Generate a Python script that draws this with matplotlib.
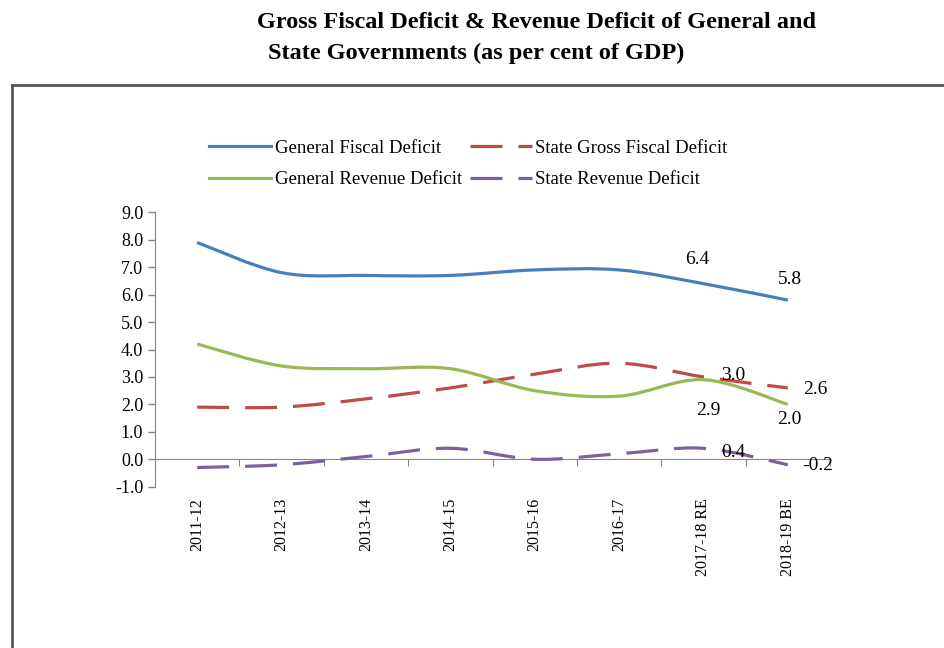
import numpy as np
import matplotlib.pyplot as plt
from matplotlib.path import Path
from matplotlib.patches import PathPatch
from matplotlib.lines import Line2D

years = ["2011-12", "2012-13", "2013-14", "2014-15", "2015-16", "2016-17",
         "2017-18 RE", "2018-19 BE"]
gen_fiscal = [7.9, 6.8, 6.7, 6.7, 6.9, 6.9, 6.4, 5.8]
state_fiscal = [1.9, 1.9, 2.2, 2.6, 3.1, 3.5, 3.0, 2.6]
gen_revenue = [4.2, 3.4, 3.3, 3.3, 2.5, 2.3, 2.9, 2.0]
state_revenue = [-0.3, -0.2, 0.1, 0.4, 0.0, 0.2, 0.4, -0.2]

blue = "#4a7ebb"
red = "#be4b48"
green = "#98b954"
purple = "#7d60a0"
axcol = "#868686"

plt.rcParams['font.family'] = ['Liberation Serif', 'DejaVu Serif']


def smooth_path(xs, ys):
    # Excel style smoothed line: cubic bezier through each point
    pts = np.column_stack([xs, ys]).astype(float)
    n = len(pts)
    verts = [pts[0]]
    codes = [Path.MOVETO]
    for i in range(n - 1):
        p0 = pts[max(i - 1, 0)]
        p1 = pts[i]
        p2 = pts[i + 1]
        p3 = pts[min(i + 2, n - 1)]
        c1 = p1 + (p2 - p0) / 6.0
        c2 = p2 - (p3 - p1) / 6.0
        verts += [c1, c2, p2]
        codes += [Path.CURVE4] * 3
    return Path(verts, codes)


fig = plt.figure(figsize=(9.44, 6.48), dpi=100)
ax = fig.add_axes([155 / 944, 1 - 486.7 / 648, 675 / 944, 274.4 / 648])

x = np.arange(len(years))
dash = (0, (10, 5))
series = {
    "General Fiscal Deficit": (gen_fiscal, blue, '-'),
    "State Gross Fiscal Deficit": (state_fiscal, red, dash),
    "General Revenue Deficit": (gen_revenue, green, '-'),
    "State Revenue Deficit": (state_revenue, purple, dash),
}
handles = {}
for lab, (vals, col, ls) in series.items():
    patch = PathPatch(smooth_path(x, vals), fill=False, edgecolor=col,
                      linewidth=2.3, linestyle=ls, capstyle='butt')
    ax.add_patch(patch)
    handles[lab] = Line2D([], [], color=col, lw=2.3, linestyle=ls,
                          dash_capstyle='butt', label=lab)

ax.set_xlim(-0.5, len(years) - 0.5)
ax.set_ylim(-1, 9)
ax.set_yticks(np.arange(-1, 9.1, 1))
ax.set_yticklabels([f"{v:.1f}" for v in np.arange(-1, 9.1, 1)], fontsize=13)
ax.tick_params(axis='y', colors=axcol, length=5, width=1, labelcolor='black')
for s in ['top', 'right', 'bottom']:
    ax.spines[s].set_visible(False)
ax.spines['left'].set_color(axcol)

ax.set_xticks(x)
ax.set_xticklabels(years, rotation=90, fontsize=11.5, va='top')
ax.tick_params(axis='x', length=0, pad=8)

# category axis crossing at zero
sec = ax.secondary_xaxis(0.1)
sec.set_xticks(np.arange(-0.5, len(years), 1))
sec.tick_params(axis='x', length=5, colors=axcol, labelbottom=False)
sec.spines['bottom'].set_color(axcol)

# data labels
lab_style = dict(textcoords='offset pixels', fontsize=14, ha='center',
                 va='center', annotation_clip=False, clip_on=False)
ax.annotate("6.4", (6, gen_fiscal[6]), xytext=(-6, 24), **lab_style)
ax.annotate("5.8", (7, gen_fiscal[7]), xytext=(2, 21), **lab_style)
ax.annotate("3.0", (6, state_fiscal[6]), xytext=(30, 1), **lab_style)
ax.annotate("2.6", (7, state_fiscal[7]), xytext=(28, -2), **lab_style)
ax.annotate("2.9", (6, gen_revenue[6]), xytext=(5, -31), **lab_style)
ax.annotate("2.0", (7, gen_revenue[7]), xytext=(2, -15), **lab_style)
ax.annotate("0.4", (6, state_revenue[6]), xytext=(30, -4), **lab_style)
ax.annotate("-0.2", (7, state_revenue[7]), xytext=(30, -1), **lab_style)

order = ["General Fiscal Deficit", "General Revenue Deficit",
         "State Gross Fiscal Deficit", "State Revenue Deficit"]
fig.legend(handles=[handles[k] for k in order], ncol=2, loc='center left',
           bbox_to_anchor=(200 / 944, 1 - 164 / 648), frameon=False,
           fontsize=13.5, handlelength=3.3, handletextpad=0.2,
           columnspacing=0.4, labelspacing=0.75, borderpad=0)

fig.text(257 / 944, 1 - 22 / 648,
         "Gross Fiscal Deficit & Revenue Deficit of General and",
         fontsize=17.5, fontweight='bold', ha='left', va='center')
fig.text(268 / 944, 1 - 53 / 648, "State Governments (as per cent of GDP)",
         fontsize=17.5, fontweight='bold', ha='left', va='center')

# outer frame (left and top edges visible)
fig.add_artist(Line2D([12 / 944, 12 / 944], [0, 1 - 85 / 648],
                      transform=fig.transFigure, color='#555555', lw=2))
fig.add_artist(Line2D([12 / 944, 1], [1 - 85 / 648, 1 - 85 / 648],
                      transform=fig.transFigure, color='#555555', lw=2))

fig.savefig("out.png", dpi=100)
